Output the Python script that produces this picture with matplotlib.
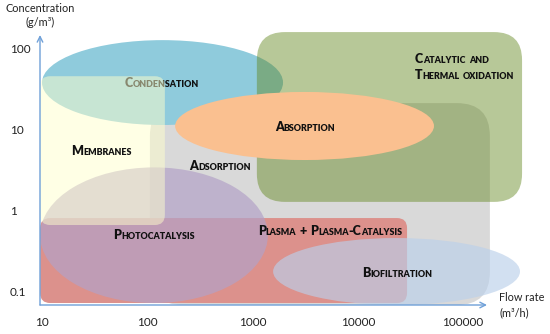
import numpy as np
import matplotlib.pyplot as plt
from matplotlib.patches import Ellipse, FancyBboxPatch
from matplotlib.offsetbox import TextArea, HPacker, VPacker, AnnotationBbox

plt.rcParams['font.family'] = ['Lato', 'DejaVu Sans']

# application windows of each treatment technology
# flow rate in m3/h, concentration in g/m3
techs = ['Adsorption', 'Condensation', 'Catalytic and\nThermal oxidation',
         'Plasma + Plasma-Catalysis', 'Photocatalysis', 'Membranes',
         'Absorption', 'Biofiltration']
flow_lo = [106, 10, 1100, 9.6, 9.6, 9.6, 184, 1570]
flow_hi = [180000, 1950, 364000, 29400, 1400, 147, 53000, 348000]
conc_lo = [0.069, 11.3, 1.28, 0.073, 0.073, 0.665, 4.19, 0.069]
conc_hi = [21, 125, 157, 0.81, 3.4, 45, 28.8, 0.46]

flow_ticks = [10, 100, 1000, 10000, 100000]
conc_ticks = [0.1, 1, 10, 100]

# shape / colour / label placement (style, not data)
style = {
    'Adsorption': dict(kind='box', r=33, fc='#D9D9D9', a=1.0, lab=(491, 3.5)),
    'Condensation': dict(kind='ell', fc='#8FCBDC', a=1.0, lab=(138, 37)),
    'Catalytic and\nThermal oxidation': dict(kind='box', r=28, fc='#61851B', a=0.45, lab=(35000, 59), ha='left'),
    'Plasma + Plasma-Catalysis': dict(kind='box', r=10, fc='#DC918C', a=1.0, lab=(5450, 0.56)),
    'Photocatalysis': dict(kind='ell', fc='#B3A2C7', a=0.70, lab=(116, 0.50)),
    'Membranes': dict(kind='box', r=10, fc='#FFFFCC', a=0.50, lab=(37, 5.4)),
    'Absorption': dict(kind='ell', fc='#FAC090', a=1.0, lab=(3150, 10.7)),
    'Biofiltration': dict(kind='ell', fc='#BBD0EA', a=0.65, lab=(23600, 0.17)),
}

axcol = '#6FA0D8'


def smallcaps(txt, big=9, small=6.4):
    lines = []
    for line in txt.split('\n'):
        words = []
        for w in line.split(' '):
            runs = []
            for ch in w:
                size = small if ch.islower() else big
                if runs and runs[-1][1] == size:
                    runs[-1][0] += ch.upper()
                else:
                    runs.append([ch.upper(), size])
            kids = [TextArea(r, textprops=dict(size=s, weight='heavy', color='#111111')) for r, s in runs]
            words.append(HPacker(children=kids, align='baseline', pad=0, sep=0))
        lines.append(HPacker(children=words, align='baseline', pad=0, sep=2.4))
    return VPacker(children=lines, align='left', pad=0, sep=3)


fig = plt.figure(figsize=(5.5, 3.34), dpi=100)
ax = fig.add_axes([40 / 550, 29 / 334, 447 / 550, 270 / 334])
ax.set_xlim(0.981, 5.228)
ax.set_ylim(-1.161, 2.160)
ax.patch.set_alpha(0)

# corner radius given in pixels -> x data units; aspect fixes y
px_x = 447 / (5.228 - 0.981)
px_y = 270 / (2.160 + 1.161)
asp = px_x / px_y

for i, t in enumerate(techs):
    st = style[t]
    x0, x1 = np.log10(flow_lo[i]), np.log10(flow_hi[i])
    y0, y1 = np.log10(conc_lo[i]), np.log10(conc_hi[i])
    z = 2 + i
    if st['kind'] == 'ell':
        p = Ellipse(((x0 + x1) / 2, (y0 + y1) / 2), x1 - x0, y1 - y0,
                    fc=st['fc'], alpha=st['a'], ec='none', zorder=z, clip_on=False)
    else:
        p = FancyBboxPatch((x0, y0), x1 - x0, y1 - y0,
                           boxstyle=f"round,pad=0,rounding_size={st['r'] / px_x}",
                           mutation_aspect=asp, fc=st['fc'], alpha=st['a'],
                           ec='none', zorder=z, clip_on=False)
    ax.add_patch(p)

for i, t in enumerate(techs):
    st = style[t]
    lx, ly = st['lab']
    ha = st.get('ha', 'center')
    # condensation label sits under the membranes box in the original
    z = 6.5 if t == 'Condensation' else 20
    ab = AnnotationBbox(smallcaps(t), (np.log10(lx), np.log10(ly)), xycoords='data',
                        frameon=False, pad=0, annotation_clip=False,
                        box_alignment=(0 if ha == 'left' else 0.5, 0.5), zorder=z)
    ax.add_artist(ab)

for s in ax.spines.values():
    s.set_visible(False)

ax.set_xticks(np.log10(flow_ticks), [str(v) for v in flow_ticks])
ax.set_yticks(np.log10(conc_ticks), [str(v) for v in conc_ticks])
ax.tick_params(axis='x', length=0, pad=9, labelsize=8.5, labelcolor='#222222')
ax.tick_params(axis='y', length=0, pad=21.6, labelsize=8.5, labelcolor='#222222')
for l in ax.get_yticklabels():
    l.set_ha('left')

ax.annotate('', xy=(0, 1), xytext=(0, 0), xycoords='axes fraction',
            arrowprops=dict(arrowstyle='->', color=axcol, lw=1, shrinkA=0, shrinkB=0), zorder=30)
ax.annotate('', xy=(1, 0), xytext=(0, 0), xycoords='axes fraction',
            arrowprops=dict(arrowstyle='->', color=axcol, lw=1, shrinkA=0, shrinkB=0), zorder=30)

ax.set_ylabel('Concentration\n(g/m³)', rotation=0, ha='center', va='center',
              fontsize=7.8, linespacing=1.4, color='#222222')
ax.yaxis.set_label_coords(0, 1.072)
ax.set_xlabel('Flow rate\n(m³/h)', ha='left', va='center',
              fontsize=7.8, linespacing=1.4, color='#222222')
ax.xaxis.set_label_coords(1.027, 0)

fig.savefig('out.png', dpi=100)
